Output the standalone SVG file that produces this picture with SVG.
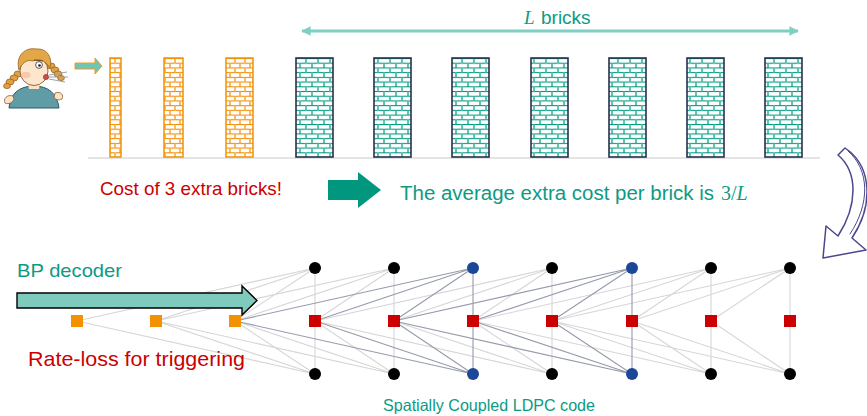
<svg xmlns="http://www.w3.org/2000/svg" width="867" height="416" viewBox="0 0 867 416">
  <style>
    .sans { font-family: "Liberation Sans", Arial, sans-serif; }
    .serif { font-family: "Liberation Serif", "Times New Roman", serif; }
    .teal { fill: #0c9a85; }
    .red { fill: #cc0000; }
    .tower-t { fill: url(#brickTeal); stroke: #27304d; stroke-width: 1.6; }
    .tower-o { fill: url(#brickOrange); stroke: #f29200; stroke-width: 1.5; }
    .var { fill: #000; }
    .var-hl { fill: #1b4796; }
    .chk { fill: #cc0000; }
    .trig { fill: #f39200; }
    .edge-lt { stroke: #d6d6d6; stroke-width: 1.1; fill: none; }
    .edge-dk { stroke: #959bab; stroke-width: 1.1; fill: none; }
  </style>
  <defs>
    <pattern id="brickTeal" patternUnits="userSpaceOnUse" x="0" y="58" width="12" height="9.43">
      <rect width="12" height="9.43" fill="#fff"/>
      <line x1="0" y1="0.5" x2="12" y2="0.5" stroke="#00977e" stroke-width="1.1"/>
      <line x1="0" y1="5.2" x2="12" y2="5.2" stroke="#00977e" stroke-width="1.1"/>
      <line x1="6" y1="0.5" x2="6" y2="5.2" stroke="#5fc4b2" stroke-width="2"/>
      <line x1="0" y1="5.2" x2="0" y2="9.93" stroke="#5fc4b2" stroke-width="2"/>
      <line x1="12" y1="5.2" x2="12" y2="9.93" stroke="#5fc4b2" stroke-width="2"/>
    </pattern>
    <pattern id="brickOrange" patternUnits="userSpaceOnUse" x="0" y="58" width="10" height="9.43">
      <rect width="10" height="9.43" fill="#fff"/>
      <line x1="0" y1="0.5" x2="10" y2="0.5" stroke="#f08c00" stroke-width="1.1"/>
      <line x1="0" y1="5.2" x2="10" y2="5.2" stroke="#f08c00" stroke-width="1.1"/>
      <line x1="5" y1="0.5" x2="5" y2="5.2" stroke="#f7b45a" stroke-width="1.8"/>
      <line x1="0" y1="5.2" x2="0" y2="9.93" stroke="#f7b45a" stroke-width="1.8"/>
      <line x1="10" y1="5.2" x2="10" y2="9.93" stroke="#f7b45a" stroke-width="1.8"/>
    </pattern>
    <marker id="tipTeal" viewBox="0 0 10 10" refX="9" refY="5" markerWidth="3.2" markerHeight="3.2" orient="auto-start-reverse">
      <path d="M0 0L10 5L0 10Z" fill="#7fcfc2"/>
    </marker>
  </defs>

  <!-- girl blowing the first brick -->
  <g id="girl">
    <path d="M9 108 C10 94 19 86 34 86 C48 86 57 93 59 108 Z" fill="#5f9ca6" stroke="#2f5a63" stroke-width="1"/>
    <path d="M13 96 C7 94 3 99 5 103 C9 105 13 102 14 99 Z" fill="#fde3c6" stroke="#8a5a30" stroke-width="0.8"/>
    <path d="M55 93 C61 91 64 95 62 99 C58 101 56 99 54 98 Z" fill="#fde3c6" stroke="#8a5a30" stroke-width="0.8"/>
    <path d="M28 82 L40 82 L39 89 L29 89 Z" fill="#fde3c6"/>
    <g fill="#dea244" stroke="#9a6222" stroke-width="0.8">
      <ellipse cx="18" cy="74" rx="4" ry="3"/>
      <ellipse cx="14" cy="78" rx="4" ry="3"/>
      <ellipse cx="10" cy="82" rx="4" ry="3"/>
      <ellipse cx="7" cy="86" rx="3.4" ry="2.6"/>
      <ellipse cx="51" cy="66" rx="4" ry="3"/>
      <ellipse cx="55" cy="70" rx="4" ry="3"/>
      <ellipse cx="58" cy="74" rx="4" ry="3"/>
      <ellipse cx="61" cy="78" rx="3.4" ry="2.6"/>
    </g>
    <ellipse cx="34" cy="71" rx="14" ry="14.5" fill="#fde6cc" stroke="#8a5a30" stroke-width="0.9"/>
    <path d="M19 70 C15 55 26 47 36 49 C46 48 53 56 50 68 C45 60 39 58 33 61 C27 59 22 63 19 70 Z" fill="#e2a848" stroke="#9a6222" stroke-width="0.8"/>
    <circle cx="39" cy="65" r="3.4" fill="#fff" stroke="#333" stroke-width="0.8"/>
    <circle cx="39.5" cy="65.5" r="1.3" fill="#222"/>
    <path d="M34 60 L43 61" stroke="#6a4520" stroke-width="1" fill="none"/>
    <ellipse cx="26" cy="75" rx="4.5" ry="3.2" fill="#f6b9a6" opacity="0.7"/>
    <circle cx="46" cy="77" r="2.6" fill="#c9524a" stroke="#7a2a20" stroke-width="0.6"/>
    <g stroke="#9aa4ac" stroke-width="1" fill="none">
      <path d="M49 75 L67 72"/>
      <path d="M49 77 L68 77"/>
      <path d="M49 79 L65 82"/>
    </g>
    <path d="M75 63 L95 63 L95 58 L102 66 L95 74 L95 69 L75 69 Z" fill="#6ec6b8" stroke="#f39a20" stroke-width="1"/>
  </g>

  <!-- brick towers -->
  <g id="bricks">
    <line x1="88" y1="158" x2="820" y2="158" stroke="#e4e4e4" stroke-width="2"/>
    <rect class="tower-o" x="110" y="58" width="11" height="99"/>
    <rect class="tower-o" x="164" y="58" width="19" height="99"/>
    <rect class="tower-o" x="226" y="58" width="27" height="99"/>
    <rect class="tower-t" x="296" y="58" width="37" height="99"/>
    <rect class="tower-t" x="374" y="58" width="37" height="99"/>
    <rect class="tower-t" x="452" y="58" width="37" height="99"/>
    <rect class="tower-t" x="531" y="58" width="37" height="99"/>
    <rect class="tower-t" x="609" y="58" width="37" height="99"/>
    <rect class="tower-t" x="687" y="58" width="37" height="99"/>
    <rect class="tower-t" x="765" y="58" width="37" height="99"/>
  </g>

  <!-- span of L bricks -->
  <g id="span">
    <line x1="302" y1="31" x2="798" y2="31" stroke="#7fcfc2" stroke-width="3" marker-start="url(#tipTeal)" marker-end="url(#tipTeal)"/>
    <text x="524" y="24" font-size="19" class="teal"><tspan class="serif" font-style="italic">L</tspan><tspan class="sans" x="541">bricks</tspan></text>
  </g>

  <g id="cost">
    <text class="sans red" x="100" y="195" font-size="18.5" textLength="182" lengthAdjust="spacingAndGlyphs">Cost of 3 extra bricks!</text>
    <path d="M328 180 L358 180 L358 172 L381 190 L358 208 L358 200 L328 200 Z" fill="#00977e"/>
    <text class="sans teal" x="400" y="200" font-size="20" textLength="314" lengthAdjust="spacingAndGlyphs">The average extra cost per brick is</text>
    <text class="serif teal" x="721" y="200" font-size="20">3/<tspan font-style="italic">L</tspan></text>
  </g>

  <!-- hand-drawn turn arrow -->
  <g id="turn" fill="#fff" stroke="#4a488c" stroke-width="1.5" stroke-linejoin="round" stroke-linecap="round">
    <path d="M845 148 C872 166 874 205 852 238 L866 250 L823 258 L826 226 L838 236 C858 205 858 172 838 155 Z"/>
    <path d="M848 151 C870 170 870 204 850 234" fill="none" stroke-width="1"/>
  </g>

  <!-- Tanner graph edges -->
  <g id="connectors">
    <path class="edge-lt" d="M77 321L315 268M77 321L315 374
      M156 321L315 268M156 321L315 374M156 321L394 268M156 321L394 374
      M235 321L315 268M235 321L315 374M235 321L394 268M235 321L394 374
      M315 268L315 374M315 321L394 268M315 321L394 374M315 321L552 268M315 321L552 374
      M394 268L394 374M394 321L552 268M394 321L552 374
      M473 321L552 268M473 321L552 374M473 321L711 268M473 321L711 374
      M552 268L552 374M552 321L711 268M552 321L711 374M552 321L790 268M552 321L790 374
      M632 321L711 268M632 321L711 374M632 321L790 268M632 321L790 374
      M711 268L711 374M711 321L790 268M711 321L790 374
      M790 268L790 374"/>
    <path class="edge-dk" d="M235 321L473 268M235 321L473 374
      M315 321L473 268M315 321L473 374
      M394 321L473 268M394 321L473 374M394 321L632 268M394 321L632 374
      M473 268L473 374M473 321L632 268M473 321L632 374
      M552 321L632 268M552 321L632 374
      M632 268L632 374"/>
  </g>

  <!-- decoder arrow -->
  <g id="bp-arrow">
    <path d="M17 293 L242 293 L242 286 L257 300.5 L242 315 L242 308 L17 308 Z" fill="#7ecabd" stroke="#000" stroke-width="1.4" stroke-linejoin="miter"/>
    <text class="sans teal" x="17" y="277" font-size="19" textLength="105" lengthAdjust="spacingAndGlyphs">BP decoder</text>
  </g>

  <!-- triggering check nodes -->
  <g id="trig0"><rect class="trig" x="71" y="315" width="12" height="12"/></g>
  <g id="trig1"><rect class="trig" x="150" y="315" width="12" height="12"/></g>
  <g id="trig2"><rect class="trig" x="229" y="315" width="12" height="12"/></g>

  <!-- coupled positions: variable, check, variable -->
  <g id="pos3"><circle class="var" cx="315" cy="268" r="6"/><rect class="chk" x="309" y="315" width="12" height="12"/><circle class="var" cx="315" cy="374" r="6"/></g>
  <g id="pos4"><circle class="var" cx="394" cy="268" r="6"/><rect class="chk" x="388" y="315" width="12" height="12"/><circle class="var" cx="394" cy="374" r="6"/></g>
  <g id="pos5"><circle class="var-hl" cx="473" cy="268" r="6"/><rect class="chk" x="467" y="315" width="12" height="12"/><circle class="var-hl" cx="473" cy="374" r="6"/></g>
  <g id="pos6"><circle class="var" cx="552" cy="268" r="6"/><rect class="chk" x="546" y="315" width="12" height="12"/><circle class="var" cx="552" cy="374" r="6"/></g>
  <g id="pos7"><circle class="var-hl" cx="632" cy="268" r="6"/><rect class="chk" x="626" y="315" width="12" height="12"/><circle class="var-hl" cx="632" cy="374" r="6"/></g>
  <g id="pos8"><circle class="var" cx="711" cy="268" r="6"/><rect class="chk" x="705" y="315" width="12" height="12"/><circle class="var" cx="711" cy="374" r="6"/></g>
  <g id="pos9"><circle class="var" cx="790" cy="268" r="6"/><rect class="chk" x="784" y="315" width="12" height="12"/><circle class="var" cx="790" cy="374" r="6"/></g>

  <g id="labels">
    <text class="sans red" x="28" y="366" font-size="21" textLength="217" lengthAdjust="spacingAndGlyphs">Rate-loss for triggering</text>
    <text class="sans teal" x="383" y="411" font-size="16.5" textLength="212" lengthAdjust="spacingAndGlyphs">Spatially Coupled LDPC code</text>
  </g>
</svg>
